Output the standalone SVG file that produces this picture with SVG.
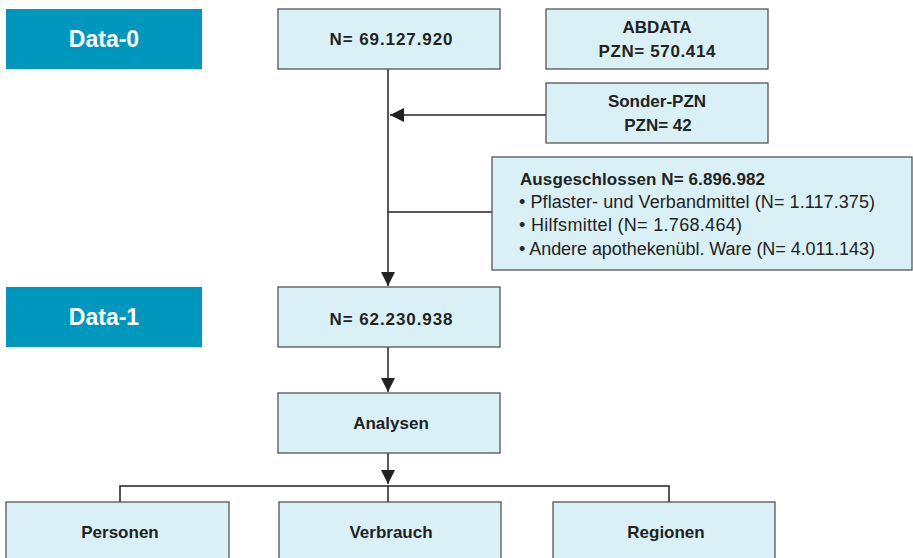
<svg xmlns="http://www.w3.org/2000/svg" width="913" height="558" viewBox="0 0 913 558">
<defs>
<style>
.lbl{fill:#0097be}
.lbltx{fill:#ffffff;font-family:"Liberation Sans",Arial,sans-serif;font-weight:bold;font-size:23px;text-anchor:middle}
.box{fill:#d9f1f6;stroke:#555;stroke-width:1.3}
.tx{fill:#222;font-family:"Liberation Sans",Arial,sans-serif;font-weight:bold;font-size:17px;text-anchor:middle}
.lt{fill:#222;font-family:"Liberation Sans",Arial,sans-serif;font-size:18px}
.ln{stroke:#222;stroke-width:1.5;fill:none}
</style>
<marker id="ah" viewBox="0 0 10 10" refX="10" refY="5" markerWidth="14" markerHeight="14" markerUnits="userSpaceOnUse" orient="auto">
<path d="M0,0 L10,5 L0,10 z" fill="#222"/>
</marker>
</defs>
<g id="connectors">
<line class="ln" x1="388" y1="69" x2="388" y2="286" marker-end="url(#ah)"/>
<line class="ln" x1="546" y1="115" x2="390" y2="115" marker-end="url(#ah)"/>
<line class="ln" x1="388" y1="212" x2="492" y2="212"/>
<line class="ln" x1="388" y1="347" x2="388" y2="392" marker-end="url(#ah)"/>
<line class="ln" x1="388" y1="453" x2="388" y2="484" marker-end="url(#ah)"/>
<polyline class="ln" points="120,502 120,486 669,486 669,502"/>
<line class="ln" x1="388" y1="486" x2="388" y2="502"/>
</g>
<g id="data0"><rect class="lbl" x="6" y="9" width="196" height="60"/><text class="lbltx" x="104" y="47">Data-0</text></g>
<g id="data1"><rect class="lbl" x="6" y="287" width="196" height="60"/><text class="lbltx" x="104" y="325">Data-1</text></g>
<g id="n0"><rect class="box" x="278" y="9" width="222" height="60"/><text class="tx" x="391" y="45" textLength="123">N= 69.127.920</text></g>
<g id="abdata"><rect class="box" x="546" y="9" width="222" height="60"/><text class="tx" x="657" y="33">ABDATA</text><text class="tx" x="657" y="57" textLength="117">PZN= 570.414</text></g>
<g id="sonder"><rect class="box" x="546" y="83" width="222" height="60"/><text class="tx" x="657" y="107">Sonder-PZN</text><text class="tx" x="658" y="131">PZN= 42</text></g>
<g id="ausgeschlossen"><rect class="box" x="492" y="157" width="420" height="113"/>
<text class="tx" x="520" y="185" style="text-anchor:start" textLength="245">Ausgeschlossen N= 6.896.982</text>
<text class="lt" x="519" y="208" textLength="356">• Pflaster- und Verbandmittel (N= 1.117.375)</text>
<text class="lt" x="519" y="231" textLength="223">• Hilfsmittel (N= 1.768.464)</text>
<text class="lt" x="519" y="255" textLength="356">• Andere apothekenübl. Ware (N= 4.011.143)</text>
</g>
<g id="n1"><rect class="box" x="278" y="287" width="222" height="60"/><text class="tx" x="391" y="325" textLength="123">N= 62.230.938</text></g>
<g id="analysen"><rect class="box" x="278" y="393" width="222" height="60"/><text class="tx" x="391" y="429">Analysen</text></g>
<g id="personen"><rect class="box" x="6" y="502" width="223" height="60"/><text class="tx" x="120" y="538">Personen</text></g>
<g id="verbrauch"><rect class="box" x="279" y="502" width="222" height="60"/><text class="tx" x="391" y="538">Verbrauch</text></g>
<g id="regionen"><rect class="box" x="553" y="502" width="222" height="60"/><text class="tx" x="666" y="538">Regionen</text></g>
</svg>
